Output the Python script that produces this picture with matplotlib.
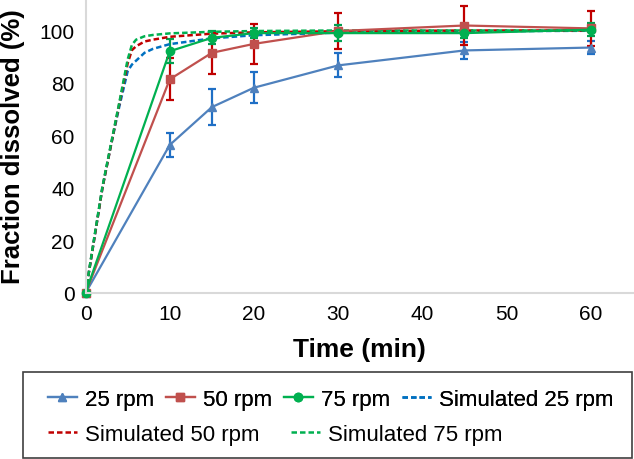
import matplotlib
matplotlib.use("Agg")
import matplotlib.pyplot as plt
from matplotlib.patches import Rectangle

plt.rcParams['font.family'] = ['Liberation Sans', 'DejaVu Sans']

# measured dissolution data
t_exp = [0, 10, 15, 20, 30, 45, 60]
rpm25 = [0, 56.4, 70.8, 78.2, 86.7, 92.4, 93.5]
err25 = [0, 4.5, 7.0, 6.0, 4.6, 3.3, 2.5]
rpm50 = [0, 81.4, 91.5, 94.9, 99.8, 101.9, 100.8]
err50 = [0, 8.0, 8.0, 7.5, 7.0, 7.5, 6.7]
rpm75 = [0, 92.1, 97.2, 99.0, 99.0, 99.0, 100.3]
err75 = [0, 4.5, 2.5, 2.0, 3.0, 2.0, 2.5]

# simulated profiles
t_sim = [0, 1, 2, 3, 4, 5, 5.5, 6, 7, 8, 10, 15, 20, 30, 45, 60]
sim25 = [0, 20, 40, 56, 71, 84.5, 87, 88.5, 91.5, 93, 94.8, 97, 98.2, 99.2, 99.7, 99.9]
sim50 = [0, 20, 40, 56, 72, 87.5, 92.5, 94, 95.8, 96.5, 97.6, 98.8, 99.3, 99.7, 100, 100]
sim75 = [0, 20.5, 40.5, 56.5, 72.5, 89, 94.5, 96.5, 97.8, 98.3, 98.9, 99.5, 99.8, 100, 100, 100]

fig = plt.figure(figsize=(6.34, 4.6), dpi=100)
ax = fig.add_axes([0.135, 0.361, 0.863, 0.639])

h25 = ax.errorbar(t_exp, rpm25, yerr=err25, color="#4F81BD", ecolor="#1F6FC5",
                  marker="^", ms=6, lw=1.6, elinewidth=1.6, capsize=3, capthick=1.6)
h50 = ax.errorbar(t_exp, rpm50, yerr=err50, color="#C0504D", ecolor="#C00000",
                  marker="s", ms=6, lw=1.6, elinewidth=1.6, capsize=3, capthick=1.6)
h75 = ax.errorbar(t_exp, rpm75, yerr=err75, color="#00B050", ecolor="#00A050",
                  marker="o", ms=6, lw=1.6, elinewidth=1.6, capsize=3, capthick=1.6)
s25, = ax.plot(t_sim, sim25, color="#0070C0", ls=(0, (2.2, 1.2)), lw=1.8)
s50, = ax.plot(t_sim, sim50, color="#C00000", ls=(0, (2.2, 1.2)), lw=1.8)
s75, = ax.plot(t_sim, sim75, color="#00B050", ls=(0, (2.2, 1.2)), lw=1.8)
for h in (h25, h50, h75):
    h[0].set_clip_on(False)  # keep the markers at the origin whole

ax.set_xlim(0, 65)
ax.set_ylim(0, 112)
ax.set_xticks(range(0, 61, 10))
ax.set_yticks(range(0, 101, 20))
ax.tick_params(length=0, labelsize=15, pad=8)
for side in ["top", "right"]:
    ax.spines[side].set_visible(False)
for side in ["left", "bottom"]:
    ax.spines[side].set_color("#D9D9D9")
    ax.spines[side].set_linewidth(1.5)
ax.set_xlabel("Time (min)", fontsize=19, fontweight="bold", labelpad=10)
ax.set_ylabel("Fraction dissolved (%)", fontsize=18.5, fontweight="bold", labelpad=10)

# legend: two rows laid out like the original, inside one box
kw = dict(frameon=False, fontsize=16, handlelength=1.3, handletextpad=0.35,
          borderpad=0, loc="center left")
leg1 = fig.legend([h25[0], h50[0], h75[0], s25],
                  ["25 rpm", "50 rpm", "75 rpm", "Simulated 25 rpm"],
                  ncol=4, columnspacing=0.55, bbox_to_anchor=(0.058, 0.13), **kw)
leg2 = fig.legend([s50, s75], ["Simulated 50 rpm", "Simulated 75 rpm"],
                  ncol=2, columnspacing=1.45, bbox_to_anchor=(0.058, 0.054), **kw)
fig.add_artist(leg1)
fig.add_artist(Rectangle((0.0363, 0.003), 0.9606, 0.187, transform=fig.transFigure,
                         fill=False, edgecolor="#404040", lw=1.2))

fig.savefig("out.png", dpi=100)
